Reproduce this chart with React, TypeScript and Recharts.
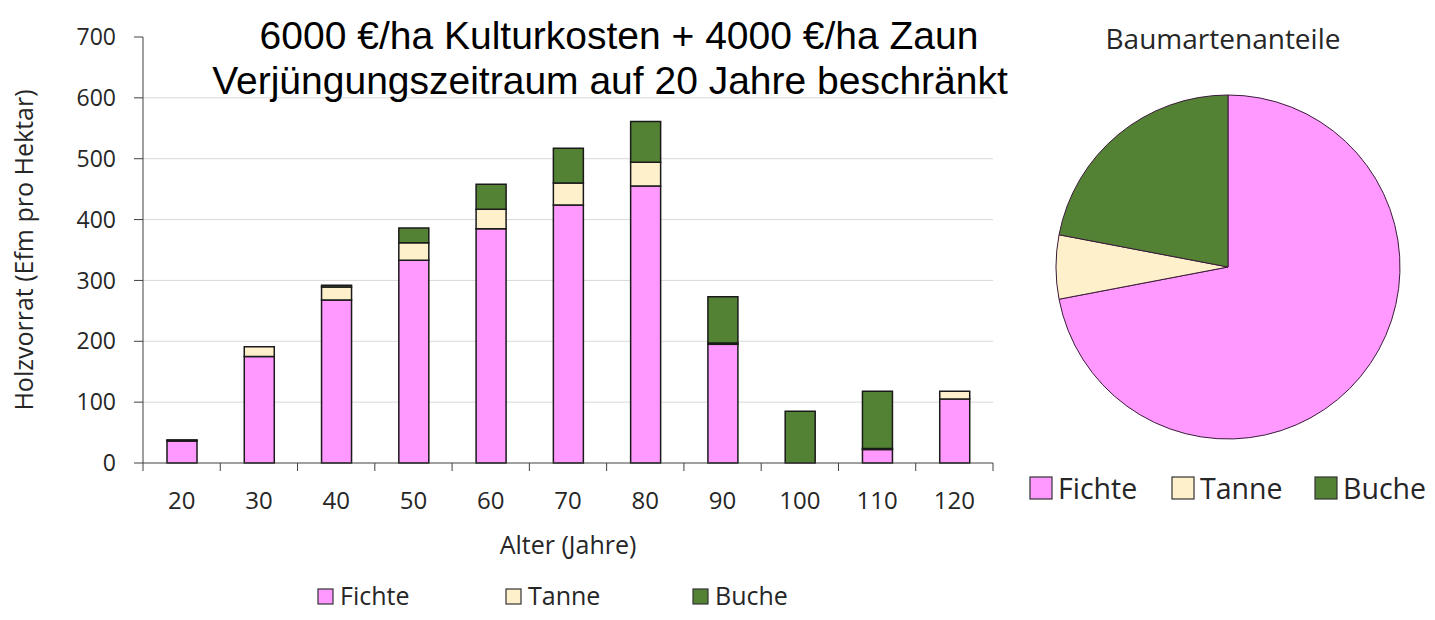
import { BarChart, Bar, XAxis, YAxis, CartesianGrid, PieChart, Pie, Cell } from 'recharts'

const ages = ['20', '30', '40', '50', '60', '70', '80', '90', '100', '110', '120']
const fichte = [36, 175, 268, 333, 385, 424, 455, 195, 0, 22, 105]
const tanne = [1, 16, 21, 29, 32, 36, 39, 2, 0, 2, 13]
const buche = [1, 0, 3, 24, 41, 57, 67, 76, 85, 94, 0]
const yTicks = [0, 100, 200, 300, 400, 500, 600, 700]

const speciesNames = ['Fichte', 'Tanne', 'Buche']
const speciesColors = ['#FF99FF', '#FFF0CC', '#548235']
const pieShares = [72, 6, 22]

const barData = ages.map((age, i) => ({ age, Fichte: fichte[i], Tanne: tanne[i], Buche: buche[i] }))
const pieData = speciesNames.map((name, i) => ({ name, value: pieShares[i] }))

const FONT = '"Open Sans", sans-serif'
const TEXT = '#262626'
const W = 1000
const H = 620
const M = { top: 37, right: 7, bottom: 117, left: 0 }
const Y_W = 143
const X_H = 40
const T_SIZE = 8
const T_MARGIN = 21
const band = (W - M.left - M.right - Y_W) / ages.length

function XTick(props: any) {
  const { x, y, payload, index } = props
  const axisY = y - T_SIZE - T_MARGIN
  const half = band / 2
  return (
    <g>
      <line x1={x - half} x2={x - half} y1={axisY} y2={axisY + T_SIZE} stroke="#404040" />
      {index === ages.length - 1 && (
        <line x1={x + half} x2={x + half} y1={axisY} y2={axisY + T_SIZE} stroke="#404040" />
      )}
      <text x={x} y={y} dy="0.71em" textAnchor="middle" fontSize={24} fontFamily={FONT} fill={TEXT}>
        {payload.value}
      </text>
    </g>
  )
}

export default function App() {
  return (
    <div style={{ position: 'absolute', left: 0, top: 0, width: 1435, height: 620, background: '#fff' }}>
      <div style={{ position: 'absolute', left: 0, top: 0 }}>
        <BarChart width={W} height={H} data={barData} margin={M} barSize={30}>
          <CartesianGrid vertical={false} stroke="#d9d9d9" horizontalValues={yTicks.filter(v => v > 0 && v < 700)} />
          <XAxis
            dataKey="age"
            height={X_H}
            tickLine={false}
            tickSize={T_SIZE}
            tickMargin={T_MARGIN}
            axisLine={{ stroke: '#404040' }}
            tick={<XTick />}
            interval={0}
          />
          <YAxis
            width={Y_W}
            domain={[0, 700]}
            ticks={yTicks}
            tickSize={9}
            tickMargin={18}
            axisLine={{ stroke: '#404040' }}
            tickLine={{ stroke: '#404040' }}
            tick={{ fontSize: 23, fontFamily: FONT, fill: TEXT }}
          />
          {speciesNames.map((s, i) => (
            <Bar key={s} dataKey={s} stackId="a" fill={speciesColors[i]} stroke="#1a1a1a" strokeWidth={1.5} isAnimationActive={false} />
          ))}
        </BarChart>
      </div>

      <div style={{ position: 'absolute', left: 1015, top: 50 }}>
        <PieChart width={415} height={430}>
          <Pie
            data={pieData}
            dataKey="value"
            cx={208}
            cy={212}
            outerRadius={172}
            startAngle={90}
            endAngle={-270}
            stroke="#3a1a3a"
            strokeWidth={1}
            isAnimationActive={false}
          >
            {pieData.map((d, i) => (
              <Cell key={d.name} fill={speciesColors[i]} />
            ))}
          </Pie>
        </PieChart>
      </div>

      <svg width={1435} height={620} style={{ position: 'absolute', left: 0, top: 0, pointerEvents: 'none' }}>
        <g fontFamily='"Liberation Sans", Arial, sans-serif' fontSize={39} fill="#000" textAnchor="middle">
          <text x={619} y={49}>6000 €/ha Kulturkosten + 4000 €/ha Zaun</text>
          <text x={610} y={94}>Verjüngungszeitraum auf 20 Jahre beschränkt</text>
        </g>
        <text x={1223} y={49} textAnchor="middle" fontFamily={FONT} fontSize={28} fill={TEXT}>Baumartenanteile</text>
        <text transform="translate(33,250) rotate(-90)" textAnchor="middle" fontFamily={FONT} fontSize={25} fill={TEXT}>
          Holzvorrat (Efm pro Hektar)
        </text>
        <text x={568} y={554} textAnchor="middle" fontFamily={FONT} fontSize={25} fill={TEXT}>Alter (Jahre)</text>

        {/* legend under bars */}
        {speciesNames.map((s, i) => {
          const lx = [318, 506, 693][i]
          return (
            <g key={s}>
              <rect x={lx} y={589} width={15} height={15} fill={speciesColors[i]} stroke="#333" strokeWidth={1.2} />
              <text x={lx + 22} y={605} fontFamily={FONT} fontSize={25} fill={TEXT}>{s}</text>
            </g>
          )
        })}

        {/* legend under pie */}
        {speciesNames.map((s, i) => {
          const lx = [1030, 1172, 1315][i]
          return (
            <g key={s}>
              <rect x={lx} y={477} width={22} height={22} fill={speciesColors[i]} stroke="#333" strokeWidth={1.2} />
              <text x={lx + 28} y={499} fontFamily={FONT} fontSize={28.5} fill={TEXT}>{s}</text>
            </g>
          )
        })}
      </svg>
    </div>
  )
}
